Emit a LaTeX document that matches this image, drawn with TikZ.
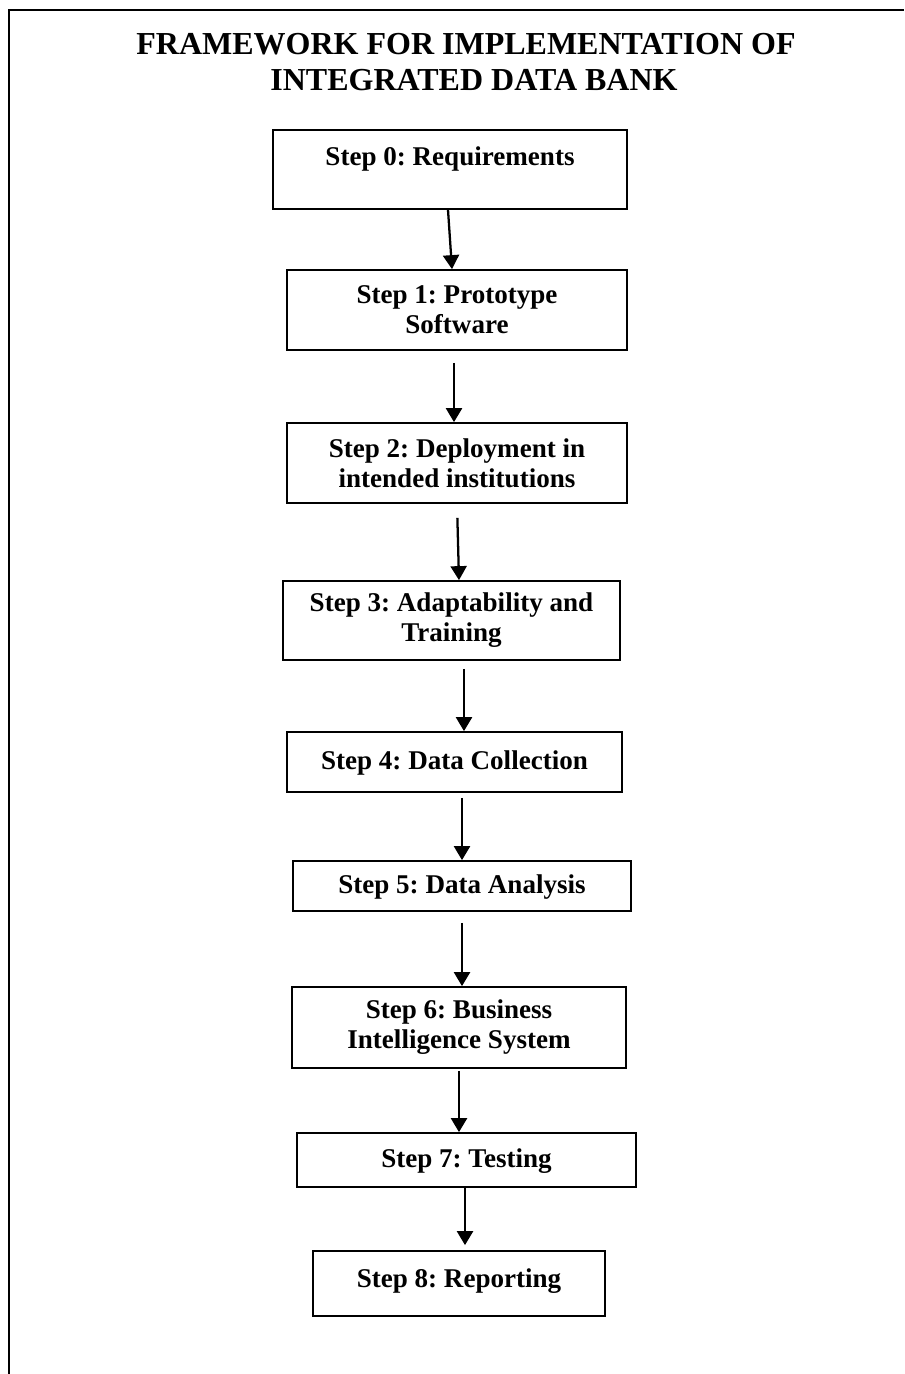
\documentclass[tikz,border=0pt]{standalone}
\usepackage{fontspec}
\setmainfont{Liberation Serif}
\usetikzlibrary{arrows.meta}
\frenchspacing

\begin{document}
\begin{tikzpicture}[x=0.75pt,y=-0.75pt,
		stepbox/.style={draw,line width=1.3pt,align=center,inner sep=0pt,
			font=\bfseries\fontsize{20.3pt}{22.5pt}\selectfont},
		oneline/.style={text height=14pt,text depth=#1},
		oneline/.default=3pt,
		flow/.style={line width=1.7pt,-{Triangle[length=10.5pt,width=12pt]}}]
		
		\useasboundingbox (0,0) rectangle (904,1374);
		
		%frame
		\draw[line width=1.6pt] (9,1374) -- (9,10) -- (904,10);
		
		%title
		\node[align=center,font=\bfseries\fontsize{24pt}{26.5pt}\selectfont] (title) at (466,62)
		{FRAMEWORK FOR IMPLEMENTATION OF\\\hspace*{12pt}INTEGRATED DATA BANK};
		
		%steps
		\node[stepbox,oneline=20pt,minimum width=265.5pt,minimum height=59.25pt] (step0) at (450,169.5) {Step 0: Requirements};
		\node[stepbox,minimum width=255pt,minimum height=60pt] (step1) at (457,310) {Step 1: Prototype\\Software};
		\node[stepbox,minimum width=255pt,minimum height=60pt] (step2) at (457,463) {Step 2: Deployment in\\intended institutions};
		\node[stepbox,minimum width=252.75pt,minimum height=59.25pt] (step3) at (451.5,620.5) {Step 3: Adaptability and\\Training};
		\node[stepbox,oneline,minimum width=251.25pt,minimum height=45pt] (step4) at (454.5,762) {Step 4: Data Collection};
		\node[stepbox,oneline,minimum width=253.5pt,minimum height=37.5pt] (step5) at (462,886) {Step 5: Data Analysis};
		\node[stepbox,minimum width=250.5pt,minimum height=60.75pt] (step6) at (459,1027.5) {Step 6: Business\\Intelligence System};
		\node[stepbox,oneline,minimum width=254.25pt,minimum height=40.5pt] (step7) at (466.5,1160) {Step 7: Testing};
		\node[stepbox,oneline=7.6pt,minimum width=219pt,minimum height=48.75pt] (step8) at (459,1283.5) {Step 8: Reporting};
		
		%arrows
		\foreach \von/\nach/\dv/\dn/\sv/\sn in {step0/step1/-2/-5/0/0, step1/step2/-3/-3/12/0, step2/step3/0/7.5/14/0,
			step3/step4/12.5/9.5/8/0, step4/step5/7.5/0/5/0, step5/step6/0/3/11/0, step6/step7/0/-7.5/2/0, step7/step8/-1.5/6/0/5}
		\draw[flow,shorten <=\sv*0.75pt,shorten >=\sn*0.75pt] ([xshift=\dv*0.75pt]\von.south) -- ([xshift=\dn*0.75pt]\nach.north);
		
	\end{tikzpicture}
\end{document}
